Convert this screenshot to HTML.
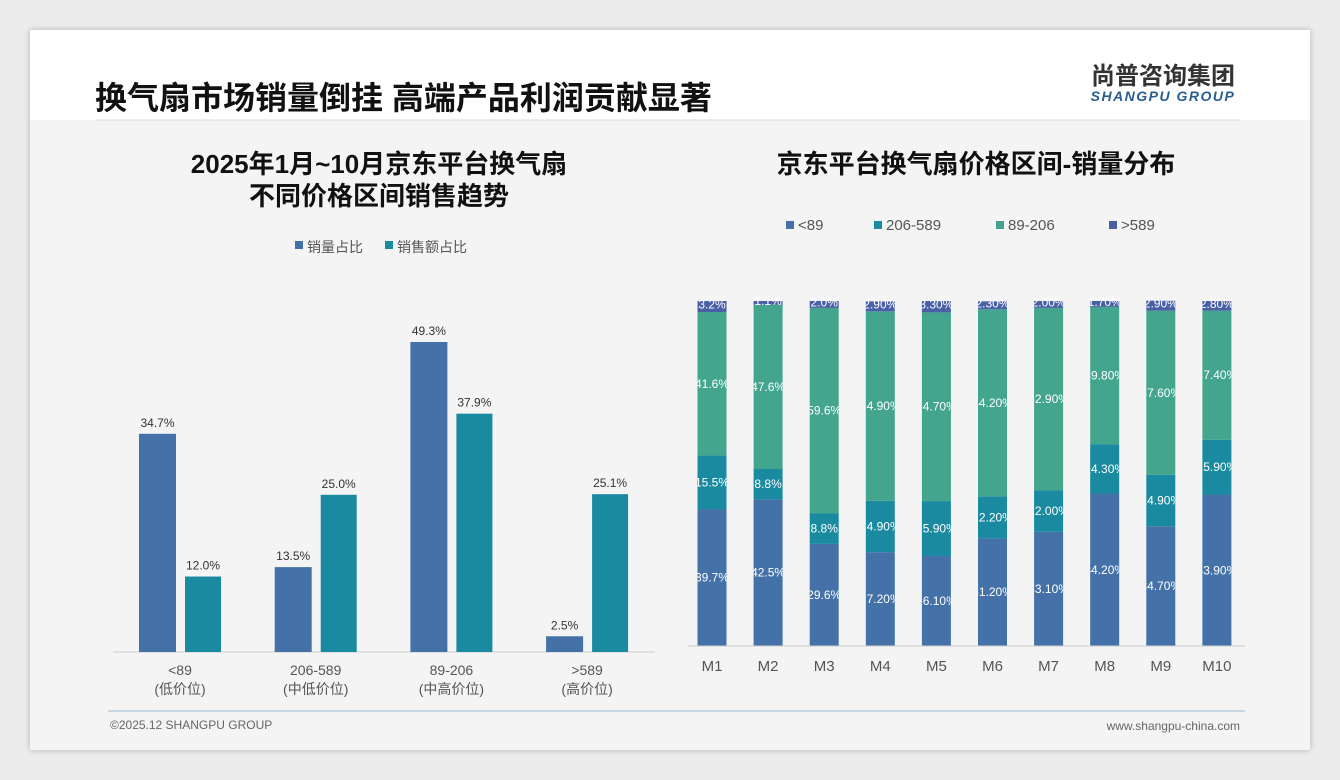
<!DOCTYPE html>
<html><head><meta charset="utf-8"><style>
body{margin:0;width:1340px;height:780px;background:#ececec;font-family:"Liberation Sans","Noto Sans CJK SC",sans-serif;overflow:hidden}
#slide{position:absolute;left:30px;top:30px;width:1280px;height:720px;background:#f4f4f4;box-shadow:0 0 6px rgba(0,0,0,.25)}
#head{position:absolute;left:0;top:0;width:1280px;height:90px;background:#fff}
</style></head><body>
<div id="slide">
<div id="head"></div>
</div>
<svg width="1340" height="780" style="position:absolute;left:0;top:0" font-family="Liberation Sans, Noto Sans CJK SC, sans-serif">
<text x="95" y="109" font-size="32" font-weight="bold" fill="#111">换气扇市场销量倒挂 高端产品利润贡献显著</text>
<line x1="95" y1="120" x2="1240" y2="120" stroke="#ddd"/>
<text x="1163" y="84" font-size="24" font-weight="bold" fill="#333" text-anchor="middle">尚普咨询集团</text>
<text x="1163" y="101" font-size="14" font-weight="bold" font-style="italic" fill="#2a5d8f" text-anchor="middle" letter-spacing="1.5">SHANGPU GROUP</text>
<text x="379" y="173" font-size="26" font-weight="bold" fill="#111" text-anchor="middle">2025年1月~10月京东平台换气扇</text>
<text x="379" y="205" font-size="26" font-weight="bold" fill="#111" text-anchor="middle">不同价格区间销售趋势</text>
<text x="976" y="173" font-size="26" font-weight="bold" fill="#111" text-anchor="middle">京东平台换气扇价格区间-销量分布</text>
<g id="left"></g><g id="right"></g>
<line x1="108" y1="711" x2="1245" y2="711" stroke="#9ab8d6"/>
<text x="110" y="729" font-size="12" fill="#666">©2025.12 SHANGPU GROUP</text>
<text x="1240" y="730" font-size="12" fill="#666" text-anchor="end">www.shangpu-china.com</text>
</svg>
<script>
const cats=["<89","206-589","89-206",">589"];
const subs=["(低价位)","(中低价位)","(中高价位)","(高价位)"];
const volShare=[34.7,13.5,49.3,2.5];
const salesShare=[12.0,25.0,37.9,25.1];
const months=["M1","M2","M3","M4","M5","M6","M7","M8","M9","M10"];
const sLow=[39.7,42.5,29.6,27.2,26.1,31.2,33.1,44.2,34.7,43.9];
const sMidLow=[15.5,8.8,8.8,14.9,15.9,12.2,12.0,14.3,14.9,15.9];
const sMidHigh=[41.6,47.6,59.6,54.9,54.7,54.2,52.9,39.8,47.6,37.4];
const sHigh=[3.2,1.1,2.0,2.9,3.3,2.3,2.0,1.7,2.9,2.8];
const lowLbl=["39.7%","42.5%","29.6%","27.20%","26.10%","31.20%","33.10%","44.20%","34.70%","43.90%"];
const midLowLbl=["15.5%","8.8%","8.8%","14.90%","15.90%","12.20%","12.00%","14.30%","14.90%","15.90%"];
const midHighLbl=["41.6%","47.6%","59.6%","54.90%","54.70%","54.20%","52.90%","39.80%","47.60%","37.40%"];
const highLbl=["3.2%","1.1%","2.0%","2.90%","3.30%","2.30%","2.00%","1.70%","2.90%","2.80%"];
const NS="http://www.w3.org/2000/svg";
function mk(p,t,a,txt){const e=document.createElementNS(NS,t);for(const k in a)e.setAttribute(k,a[k]);if(txt!=null)e.textContent=txt;p.appendChild(e);return e;}
const L=document.getElementById('left');
const base=652, k=310/49.3;
const ly=v=>base-v*k;
const lx=i=>180+i*135.7;
let e;
e=mk(L,'line',{x1:113,y1:base,x2:655,y2:base,stroke:'#ccc'});


e=mk(L,'rect',{x:295,y:241,width:8,height:8,fill:'#4472a8'});


e=mk(L,'text',{x:307,y:252,'font-size':14,fill:'#555'},'销量占比');


e=mk(L,'rect',{x:385,y:241,width:8,height:8,fill:'#1a8aa0'});


e=mk(L,'text',{x:397,y:252,'font-size':14,fill:'#555'},'销售额占比');


cats.forEach((c,i)=>{
 const cx=lx(i);
 e=mk(L,'rect',{x:cx-41,y:ly(volShare[i]),width:37,height:base-ly(volShare[i]),fill:'#4472a8'});
 
 
 e=mk(L,'text',{x:cx-22.5,y:ly(volShare[i])-7,'font-size':12,fill:'#333','text-anchor':'middle'},volShare[i].toFixed(1)+'%');
 
 
 e=mk(L,'rect',{x:cx+5,y:ly(salesShare[i]),width:36,height:base-ly(salesShare[i]),fill:'#1a8aa0'});
 
 
 e=mk(L,'text',{x:cx+23,y:ly(salesShare[i])-7,'font-size':12,fill:'#333','text-anchor':'middle'},salesShare[i].toFixed(1)+'%');
 
 
 e=mk(L,'text',{x:cx,y:675,'font-size':14,fill:'#555','text-anchor':'middle'},c);
 
 
 e=mk(L,'text',{x:cx,y:694,'font-size':14,fill:'#555','text-anchor':'middle'},subs[i]);
 
 
});
const R=document.getElementById('right');
const rb=646, rt=301, rh=rb-rt;
const ry=v=>rb-v/100*rh;
const rx=i=>712+i*56.1;
const series=[[sLow,lowLbl,'#4472a8','low'],[sMidLow,midLowLbl,'#1a8aa0','midlow'],[sMidHigh,midHighLbl,'#43a58e','midhigh'],[sHigh,highLbl,'#4a5fa6','high']];
const legs=[["<89",'#4472a8',790],["206-589",'#1a8aa0',878],["89-206",'#43a58e',1000],[">589",'#4a5fa6',1113]];
legs.forEach((l,j)=>{
 e=mk(R,'rect',{x:l[2]-4,y:221,width:8,height:8,fill:l[1]});
 
 
 e=mk(R,'text',{x:l[2]+8,y:230,'font-size':15,fill:'#555'},l[0]);
 
 
});
const defs=mk(R,'defs',{});
months.forEach((m,i)=>{
 const cx=rx(i);let acc=0;
 const cp=mk(defs,'clipPath',{id:'cp'+i});
 mk(cp,'rect',{x:cx-14.5,y:0,width:29,height:780});
 series.forEach(s=>{
  const v=s[0][i];const y1=ry(acc+v), y0=ry(acc);
  e=mk(R,'rect',{x:cx-14.5,y:y1,width:29,height:y0-y1,fill:s[2]});
  
  
  e=mk(R,'text',{x:cx,y:(y0+y1)/2+(s[3]=='high'?2:4),'font-size':12,fill:'#fff','text-anchor':'middle','clip-path':'url(#cp'+i+')'},s[1][i]);
  
  
  acc+=v;
 });
 e=mk(R,'text',{x:cx,y:671,'font-size':15,fill:'#555','text-anchor':'middle'},m);
 
 
});
e=mk(R,'line',{x1:688,y1:rb,x2:1245,y2:rb,stroke:'#ccc'});


</script>
</body></html>
